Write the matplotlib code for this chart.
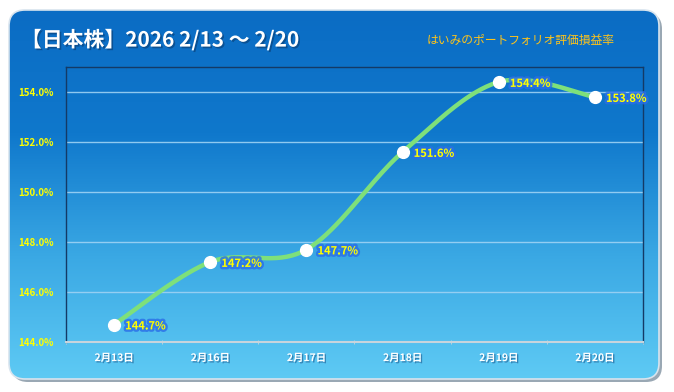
import numpy as np
import matplotlib
matplotlib.use("Agg")
import matplotlib.pyplot as plt
from matplotlib.patches import FancyBboxPatch
import matplotlib.patheffects as pe
from matplotlib.colors import LinearSegmentedColormap

plt.rcParams['font.family'] = ['Noto Sans CJK JP', 'DejaVu Sans']

categories = ["2月13日", "2月16日", "2月17日", "2月18日", "2月19日", "2月20日"]
values = [144.7, 147.2, 147.7, 151.6, 154.4, 153.8]
yticks = [144.0, 146.0, 148.0, 150.0, 152.0, 154.0]
title = "【日本株】2026 2/13 〜 2/20"
subtitle = "はいみのポートフォリオ評価損益率"

W, H = 674, 392
fig = plt.figure(figsize=(W/100, H/100), dpi=100)
fig.patch.set_facecolor('white')

# background panel
bg = fig.add_axes([0, 0, 1, 1])
bg.set_xlim(0, W); bg.set_ylim(H, 0); bg.axis('off')
px0, py0, px1, py1 = 9, 10, 659, 379
shadow = FancyBboxPatch((px0+3, py0+3), px1-px0, py1-py0,
                        boxstyle="round,pad=0,rounding_size=16",
                        fc='#9aa8b4', ec='none', zorder=0)
bg.add_patch(shadow)
panel = FancyBboxPatch((px0, py0), px1-px0, py1-py0,
                       boxstyle="round,pad=0,rounding_size=16",
                       fc='none', ec='#d8e4ee', lw=1.2, zorder=2)
bg.add_patch(panel)
cmap = LinearSegmentedColormap.from_list('g', ['#0b6cc4', '#0f78cc', '#3aa8e4', '#5ecaf4'])
grad = np.linspace(0, 1, 256).reshape(-1, 1)
im = bg.imshow(grad, cmap=cmap, aspect='auto', extent=(px0, px1, py1, py0), zorder=1)
im.set_clip_path(panel)

bg.text(21, 40, title, color='white', fontsize=15, fontweight='bold', va='center', ha='left',
        path_effects=[pe.withSimplePatchShadow(offset=(1.2, -1.2), shadow_rgbFace='#0a3c70', alpha=0.6)])
bg.text(615, 40, subtitle, color='#ffc41a', fontsize=8.5, style='italic', va='center', ha='right')

# plot area
L, R, T, B = 66, 643, 67, 342
ax = fig.add_axes([L/W, 1-B/H, (R-L)/W, (B-T)/H])
ax.patch.set_alpha(0)
x = np.arange(len(values))
ax.set_xlim(-0.5, len(values)-0.5)
ax.set_ylim(144, 155)

for yv in yticks[1:]:
    ax.axhline(yv, color='#9ed2f4', lw=1.0, alpha=0.9, zorder=1)

# smooth curve (Catmull-Rom like)
def smooth(xs, ys, n=40):
    P = np.column_stack([xs, ys]).astype(float)
    out = []
    for i in range(len(P)-1):
        p0 = P[i-1] if i > 0 else P[i]
        p1 = P[i]; p2 = P[i+1]
        p3 = P[i+2] if i+2 < len(P) else P[i+1]
        c1 = p1 + (p2 - p0) / 6.0
        c2 = p2 - (p3 - p1) / 6.0
        t = np.linspace(0, 1, n)[:, None]
        seg = (1-t)**3*p1 + 3*(1-t)**2*t*c1 + 3*(1-t)*t**2*c2 + t**3*p2
        out.append(seg if i == 0 else seg[1:])
    return np.vstack(out)

cur = smooth(x, values)
ax.plot(cur[:, 0], cur[:, 1], color='#7ee07a', lw=3.2, solid_capstyle='round', zorder=3)
ax.plot(x, values, 'o', color='white', ms=8.5, zorder=4)

for xi, v in zip(x, values):
    ax.annotate(f"{v:.1f}%", (xi, v), xytext=(8, -1), textcoords='offset points',
                ha='left', va='center', color='#ffff00', fontsize=8, fontweight='bold',
                path_effects=[pe.withStroke(linewidth=3.5, foreground='#2a6ee8', alpha=0.8)],
                zorder=5)

ax.set_yticks(yticks)
ax.set_yticklabels([f"{t:.1f}%" for t in yticks], color='#ffff00', fontsize=7, fontweight='bold')
ax.set_xticks(x)
ax.set_xticklabels(categories, color='white', fontsize=7.5, fontweight='bold')
for lab in ax.get_xticklabels():
    lab.set_path_effects([pe.withSimplePatchShadow(offset=(1, -1), shadow_rgbFace='#1a5a90', alpha=0.6)])
ax.tick_params(axis='y', length=0, pad=9)
ax.tick_params(axis='x', which='major', length=0, pad=8)
ax.set_xticks(np.arange(-0.5, len(values), 1.0), minor=True)
ax.tick_params(axis='x', which='minor', length=3, color='#c8d4dc', direction='inout')

for s in ['left', 'top', 'right']:
    ax.spines[s].set_color('#143a66')
    ax.spines[s].set_linewidth(1.0)
ax.spines['bottom'].set_color('#c8d4dc')
ax.spines['bottom'].set_linewidth(1.5)

fig.savefig('out.png', dpi=100)
